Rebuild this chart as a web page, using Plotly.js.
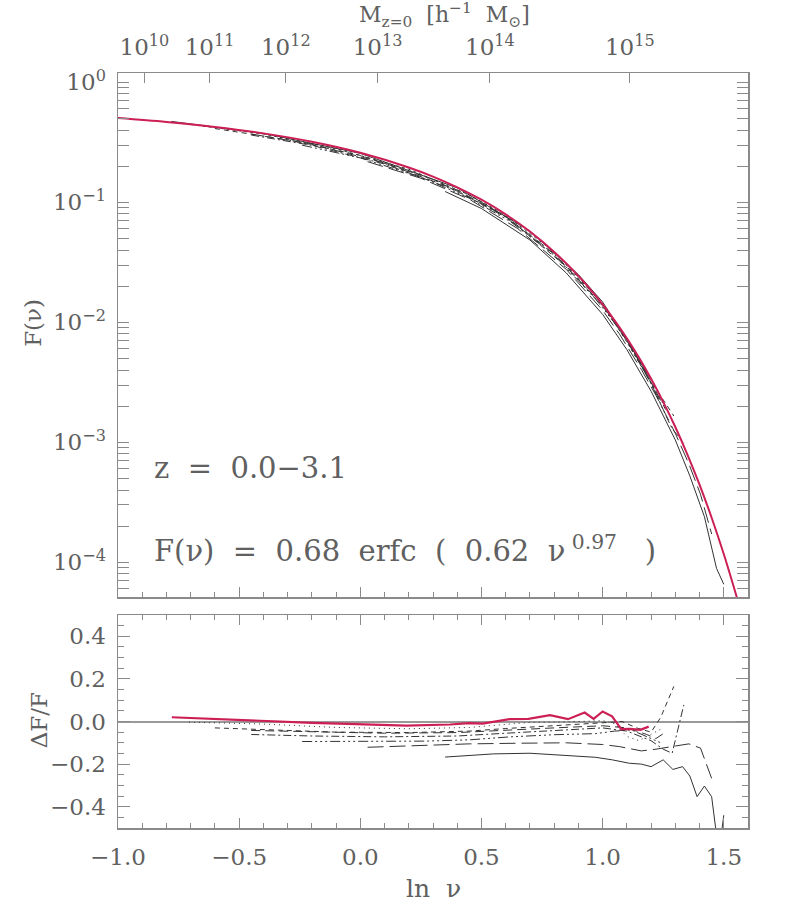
<!DOCTYPE html>
<html>
<head>
<meta charset="utf-8">
<script src="https://cdn.plot.ly/plotly-3.0.1.min.js"></script>
<style>html,body{margin:0;padding:0;background:#fff;}#chart{width:789px;height:920px;}</style>
</head>
<body>
<div id="chart"></div>
<script>
// ---------- data ----------
// fitted curve F(nu) = 0.68 erfc(0.62 nu^0.97), sampled values
const lnNuFit = [-1.0,-0.8,-0.6,-0.4,-0.2,0.0,0.2,0.3,0.4,0.5,0.6,0.7,0.8,0.9,1.0,1.05,1.1,1.15,1.2,1.25,1.3,1.35,1.4,1.45,1.5,1.56];
const fFit = [0.503,0.4669,0.4244,0.3752,0.3197,0.2587,0.1952,0.1637,0.1333,0.1050,0.0793,0.0570,0.0386,0.02435,0.0141,0.01031,0.00735,0.005075,0.00338,0.002171,0.00134,0.00079,0.000443,0.000235,0.000117,0.0000463];

// top panel: measured F(nu) curves
const lnNuTopR = [-0.78,-0.4,0,0.4,0.7,0.9,1.0,1.1,1.19];
const fTopR = [0.472,0.3752,0.2559,0.1320,0.0577,0.02496,0.01476,0.00713,0.00358];
const lnNuTopA = [-0.7,-0.4,-0.1,0.2,0.45,0.6,0.8,1.0,1.1,1.2,1.25];
const fTopA = [0.4448,0.3707,0.2795,0.1886,0.1150,0.0783,0.0385,0.01416,0.00684,0.00318,0.00211];
const lnNuTopB = [-0.6,-0.3,0,0.3,0.6,0.9,1.0,1.1,1.2,1.294];
const fTopB = [0.4117,0.3318,0.2460,0.1554,0.0767,0.02398,0.01402,0.00728,0.00321,0.001654];
const lnNuTopC = [-0.45,-0.2,0.1,0.4,0.6,0.8,1.0,1.1,1.18,1.26];
const fTopC = [0.3707,0.3044,0.2123,0.1264,0.0761,0.03744,0.01382,0.00713,0.003743,0.001873];
const lnNuTopD = [-0.45,-0.2,0.1,0.4,0.6,0.8,1.0,1.1,1.2,1.25,1.287,1.335];
const fTopD = [0.3633,0.2980,0.2085,0.1242,0.0749,0.03694,0.01368,0.00702,0.003076,0.001889,0.001292,0.000997];
const lnNuTopE = [-0.24,0.0,0.27,0.45,0.62,0.8,0.97,1.05,1.12,1.18,1.24];
const fTopE = [0.2991,0.2344,0.1567,0.1081,0.0689,0.03621,0.01567,0.00985,0.00609,0.003703,0.002136];
const lnNuTopF = [0.03,0.25,0.45,0.65,0.85,1.0,1.07,1.16,1.22,1.3,1.356,1.404,1.45];
const fTopF = [0.2180,0.1587,0.1059,0.0603,0.0276,0.01258,0.00794,0.004037,0.002463,0.001186,0.000660,0.000368,0.000172];
const lnNuTopG = [0.35,0.5,0.7,0.85,1.0,1.1,1.2,1.3,1.36,1.42,1.47,1.5];
const fTopG = [0.1230,0.0887,0.0485,0.02576,0.01163,0.00592,0.002663,0.001045,0.000524,0.000240,0.0000890,0.0000655];

// bottom panel: residuals dF/F
const lnNuResR = [-0.778,-0.6,-0.39,-0.2,-0.05,0.19,0.37,0.45,0.505,0.55,0.616,0.694,0.742,0.783,0.857,0.926,0.963,1.0,1.039,1.077,1.114,1.156,1.19];
const resR = [0.020,0.012,0.0,-0.006,-0.011,-0.019,-0.014,-0.008,-0.010,-0.002,0.011,0.0125,0.022,0.030,0.011,0.042,0.0125,0.047,0.024,-0.036,-0.035,-0.039,-0.024];
const lnNuResA = [-0.707,-0.4,-0.1,0.2,0.45,0.6,0.7,0.85,1.0,1.05,1.1,1.15,1.2,1.25];
const resA = [-0.003,-0.012,-0.028,-0.034,-0.028,-0.012,-0.004,-0.002,0.004,-0.01,-0.07,-0.09,-0.06,-0.03];
const lnNuResB = [-0.60,-0.35,-0.1,0.2,0.45,0.6,0.75,0.9,1.0,1.08,1.14,1.2,1.24,1.294];
const resB = [-0.030,-0.040,-0.050,-0.052,-0.045,-0.033,-0.024,-0.015,-0.006,0.0,-0.03,-0.05,0.02,0.165];
const lnNuResC = [-0.45,-0.2,0.1,0.4,0.6,0.8,1.0,1.1,1.18,1.22,1.26];
const resC = [-0.042,-0.048,-0.055,-0.052,-0.040,-0.030,-0.020,-0.03,-0.06,-0.08,-0.05];
const lnNuResD = [-0.45,-0.2,0.1,0.4,0.6,0.8,1.0,1.1,1.2,1.25,1.287,1.335];
const resD = [-0.061,-0.068,-0.072,-0.068,-0.055,-0.043,-0.030,-0.045,-0.09,-0.13,-0.149,0.078];
const lnNuResE = [-0.24,0.0,0.27,0.45,0.62,0.8,0.97,1.05,1.12,1.18,1.24];
const resE = [-0.094,-0.094,-0.092,-0.086,-0.072,-0.062,-0.057,-0.045,-0.04,-0.07,-0.1];
const lnNuResF = [0.03,0.25,0.45,0.65,0.85,1.0,1.07,1.16,1.22,1.3,1.356,1.404,1.45];
const resF = [-0.121,-0.112,-0.105,-0.102,-0.100,-0.108,-0.118,-0.138,-0.13,-0.115,-0.105,-0.125,-0.267];
const lnNuResG = [0.35,0.45,0.55,0.7,0.83,0.97,1.04,1.11,1.16,1.2,1.25,1.29,1.33,1.36,1.39,1.42,1.45,1.466,1.48,1.5];
const resG = [-0.167,-0.158,-0.152,-0.149,-0.157,-0.168,-0.180,-0.196,-0.200,-0.212,-0.180,-0.225,-0.212,-0.256,-0.353,-0.303,-0.353,-0.50,-0.62,-0.44];

// tick labels
const massTickLn = [-0.891,-0.622,-0.3075,0.0714,0.5349,1.112];
const massTickText = ['10<sup>10</sup>','10<sup>11</sup>','10<sup>12</sup>','10<sup>13</sup>','10<sup>14</sup>','10<sup>15</sup>'];
const fTickVals = [1,0.1,0.01,0.001,0.0001];
const fTickText = ['10<sup>0</sup>','10<sup>−1</sup>','10<sup>−2</sup>','10<sup>−3</sup>','10<sup>−4</sup>'];

// ---------- styles ----------
const RED = '#cc1f55';
const BLK = '#333333';
const AX = '#8a8a8a';
const TXT = '#606060';
const dashDDD = '10px,3px,2px,3px,2px,3px,2px,3px';

const topSets = [
  [lnNuTopR, fTopR, 'solid'],
  [lnNuTopA, fTopA, 'dot'],
  [lnNuTopB, fTopB, '5px,4px'],
  [lnNuTopC, fTopC, '9px,5px'],
  [lnNuTopD, fTopD, '8px,3px,2px,3px'],
  [lnNuTopE, fTopE, dashDDD],
  [lnNuTopF, fTopF, '16px,6px'],
  [lnNuTopG, fTopG, 'solid']
];
const resSets = [
  [lnNuResA, resA, '1px,4px'],
  [lnNuResB, resB, '5px,4px'],
  [lnNuResC, resC, '9px,5px'],
  [lnNuResD, resD, '8px,3px,2px,3px'],
  [lnNuResE, resE, dashDDD],
  [lnNuResF, resF, '16px,6px'],
  [lnNuResG, resG, 'solid']
];

const traces = [];
topSets.forEach(s => traces.push({
  x: s[0], y: s[1], xaxis: 'x', yaxis: 'y', mode: 'lines',
  line: {color: BLK, width: 1, dash: s[2]}, hoverinfo: 'skip'
}));
traces.push({x: lnNuFit, y: fFit, xaxis: 'x', yaxis: 'y', mode: 'lines',
  line: {color: RED, width: 2, shape: 'spline'}, hoverinfo: 'skip'});
// helper trace so the top mass axis is drawn
traces.push({x: [massTickLn[0]], y: [fTickVals[0]], xaxis: 'x2', yaxis: 'y', mode: 'markers',
  marker: {opacity: 0}, hoverinfo: 'skip'});

resSets.forEach(s => traces.push({
  x: s[0], y: s[1], xaxis: 'x3', yaxis: 'y2', mode: 'lines',
  line: {color: BLK, width: 1, dash: s[2]}, hoverinfo: 'skip'
}));
traces.push({x: lnNuResR, y: resR, xaxis: 'x3', yaxis: 'y2', mode: 'lines',
  line: {color: RED, width: 2.2}, hoverinfo: 'skip'});

// minor log ticks
const minorLog = [];
for (let d = -5; d <= 0; d++) for (let k = 2; k <= 9; k++) minorLog.push(k * Math.pow(10, d));

const tickFont = {family: 'DejaVu Serif', size: 23, color: TXT};
const baseX = {
  range: [-1, 1.6], showgrid: false, zeroline: false, showline: true,
  linecolor: AX, linewidth: 1.5, ticks: 'inside', ticklen: 10, tickwidth: 1, tickcolor: AX,
  tickmode: 'linear', tick0: 0, dtick: 0.5, tickfont: tickFont,
  minor: {tickmode: 'linear', tick0: 0, dtick: 0.1, ticks: 'inside', ticklen: 5, tickcolor: AX, showgrid: false}
};

const layout = {
  width: 789, height: 920,
  margin: {l: 118, r: 41, t: 73, b: 92},
  paper_bgcolor: '#fff', plot_bgcolor: '#fff',
  showlegend: false,
  font: {family: 'DejaVu Serif', size: 23, color: TXT},
  xaxis: Object.assign({}, baseX, {anchor: 'y', domain: [0, 1], mirror: true, showticklabels: false}),
  xaxis2: {overlaying: 'x', anchor: 'y', side: 'top', range: [-1, 1.6], tickmode: 'array',
    tickvals: massTickLn, ticktext: massTickText, ticks: 'inside', ticklen: 10, tickcolor: AX,
    showline: false, showgrid: false, zeroline: false, tickfont: tickFont, ticklabelstandoff: 12},
  xaxis3: Object.assign({}, baseX, {anchor: 'y2', domain: [0, 1], mirror: 'allticks',
    tickformat: '.1f', ticklabelstandoff: 8}),
  yaxis: {anchor: 'x', domain: [0.3056, 1], type: 'log', range: [-4.292, 0.0775],
    tickmode: 'array', tickvals: fTickVals, ticktext: fTickText,
    showgrid: false, zeroline: false, showline: true, linecolor: AX, linewidth: 1.5,
    mirror: 'allticks', ticks: 'inside', ticklen: 11, tickcolor: AX, tickfont: tickFont,
    ticklabelstandoff: 6,
    minor: {tickmode: 'array', tickvals: minorLog, ticks: 'inside', ticklen: 6, tickcolor: AX, showgrid: false}},
  yaxis2: {anchor: 'x3', domain: [0, 0.2821], range: [-0.5, 0.5],
    tickmode: 'linear', tick0: 0, dtick: 0.2, tickformat: '.1f',
    showgrid: false, zeroline: true, zerolinecolor: '#9a9a9a', zerolinewidth: 2,
    showline: true, linecolor: AX, linewidth: 1.5, mirror: 'allticks',
    ticks: 'inside', ticklen: 12, tickcolor: AX, tickfont: tickFont, ticklabelstandoff: 6,
    minor: {tickmode: 'linear', tick0: 0, dtick: 0.05, ticks: 'inside', ticklen: 6, tickcolor: AX, showgrid: false}},
  annotations: [
    {text: 'z  =  0.0−3.1', xref: 'paper', yref: 'paper', x: 0.054, y: 0.4768,
      xanchor: 'left', yanchor: 'middle', showarrow: false,
      font: {family: 'DejaVu Serif', size: 29, color: TXT}},
    {text: 'F(ν)  =  0.68  erfc  (  0.62  ν<sup> 0.97</sup>   )', xref: 'paper', yref: 'paper', x: 0.054, y: 0.3695,
      xanchor: 'left', yanchor: 'middle', showarrow: false,
      font: {family: 'DejaVu Serif', size: 29, color: TXT}},
    {text: 'F(ν)', xref: 'paper', yref: 'paper', x: -0.135, y: 0.669, textangle: -90,
      xanchor: 'center', yanchor: 'middle', showarrow: false,
      font: {family: 'DejaVu Serif', size: 23, color: TXT}},
    {text: 'ΔF/F', xref: 'paper', yref: 'paper', x: -0.125, y: 0.143, textangle: -90,
      xanchor: 'center', yanchor: 'middle', showarrow: false,
      font: {family: 'DejaVu Serif', size: 23, color: TXT}},
    {text: 'ln  ν', xref: 'paper', yref: 'paper', x: 0.5, y: -0.0795,
      xanchor: 'center', yanchor: 'middle', showarrow: false,
      font: {family: 'DejaVu Serif', size: 25, color: TXT}},
    {text: 'M<sub>z=0</sub>  [h<sup>−1</sup>  M<sub>⊙</sub>]', xref: 'paper', yref: 'paper', x: 0.519, y: 1.077,
      xanchor: 'center', yanchor: 'middle', showarrow: false,
      font: {family: 'DejaVu Serif', size: 22, color: TXT}}
  ]
};

Plotly.newPlot('chart', traces, layout, {staticPlot: true, displayModeBar: false});
</script>
</body>
</html>
